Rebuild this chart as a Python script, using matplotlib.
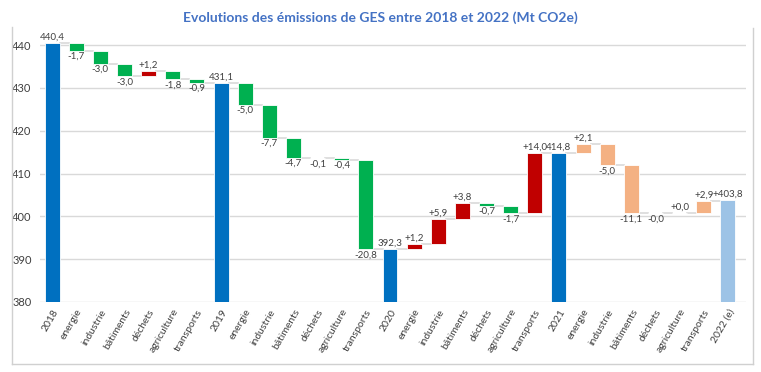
import matplotlib
matplotlib.use('Agg')
import matplotlib.pyplot as plt
from matplotlib.lines import Line2D
import numpy as np

plt.rcParams['font.family'] = ['Lato', 'DejaVu Sans']

# categories along the x axis
categories = ['2018', 'energie', 'industrie', 'bâtiments', 'déchets', 'agriculture', 'transports',
              '2019', 'energie', 'industrie', 'bâtiments', 'déchets', 'agriculture', 'transports',
              '2020', 'energie', 'industrie', 'bâtiments', 'déchets', 'agriculture', 'transports',
              '2021', 'energie', 'industrie', 'bâtiments', 'déchets', 'agriculture', 'transports',
              '2022 (e)']
# totals per year (None for sector steps)
totals = [440.4, None, None, None, None, None, None,
          431.1, None, None, None, None, None, None,
          392.3, None, None, None, None, None, None,
          414.8, None, None, None, None, None, None,
          403.8]
# sector changes (None for year totals)
changes = [None, -1.7, -3.0, -3.0, 1.2, -1.8, -0.9,
           None, -5.0, -7.7, -4.7, -0.1, -0.4, -20.8,
           None, 1.2, 5.9, 3.8, -0.7, -1.7, 14.0,
           None, 2.1, -5.0, -11.1, -0.03, 0.03, 2.9,
           None]

C_TOTAL = '#0070C0'
C_EST = '#9DC3E6'
C_DOWN = '#00B050'
C_UP = '#C00000'
C_2022 = '#F4B183'
TXT = '#404040'

fig = plt.figure(figsize=(7.61, 3.72), dpi=100)
ax = fig.add_axes([40/761, 1-302/372, (746-40)/761, (302-28)/372])

x = np.arange(len(categories))
w = 0.62
level = None
for i, (t, c) in enumerate(zip(totals, changes)):
    if t is not None:
        col = C_EST if i == len(categories) - 1 else C_TOTAL
        ax.bar(i, t - 380, bottom=380, width=w, color=col, edgecolor='white', linewidth=0.6, zorder=3)
        lab = ('+%.1f' if i == len(categories) - 1 else '%.1f') % t
        ax.text(i, t + 0.3, lab.replace('.', ','), ha='center', va='bottom', fontsize=7, color=TXT)
        new_level = t
    else:
        if i > 21:
            col = C_2022
        else:
            col = C_UP if c > 0 else C_DOWN
        lo = min(level, level + c)
        ax.bar(i, abs(c), bottom=lo, width=w, color=col, edgecolor='white', linewidth=0.6, zorder=3)
        lab = ('%+.1f' % c).replace('.', ',')
        if c >= 0:
            ax.text(i, level + c + 0.3, lab, ha='center', va='bottom', fontsize=7, color=TXT)
        else:
            ax.text(i, level + c - 0.3, lab, ha='center', va='top', fontsize=7, color=TXT)
        new_level = level + c
    if level is not None:
        ax.plot([i - 1 + w/2, i - w/2], [level, level], color='#D9D9D9', lw=1.2, zorder=2)
    level = new_level

ax.set_xlim(-0.5, len(categories) - 0.25)
ax.set_ylim(380, 444)
ax.set_yticks([380, 390, 400, 410, 420, 430, 440])
ax.yaxis.grid(True, color='#D9D9D9', lw=1)
ax.set_axisbelow(True)
for s in ax.spines.values():
    s.set_visible(False)
ax.tick_params(axis='both', length=0, labelsize=7.5, colors=TXT)
ax.tick_params(axis='y', pad=6, labelsize=8)
ax.tick_params(axis='x', pad=4)
ax.set_xticks(x)
ax.set_xticklabels(categories, rotation=60, ha='right', rotation_mode='anchor')

fig.text(0.5, 1-18/372, 'Evolutions des émissions de GES entre 2018 et 2022 (Mt CO2e)',
         ha='center', va='center', fontsize=10, fontweight='bold', color='#4472C4')

for (x0, y0, x1, y1) in [(12, 27, 12, 364), (12, 364, 753, 364), (753, 28, 753, 364)]:
    fig.add_artist(Line2D([x0/761, x1/761], [1-y0/372, 1-y1/372], color='#D0D0D0', lw=1))

fig.savefig('out.png', dpi=100)
